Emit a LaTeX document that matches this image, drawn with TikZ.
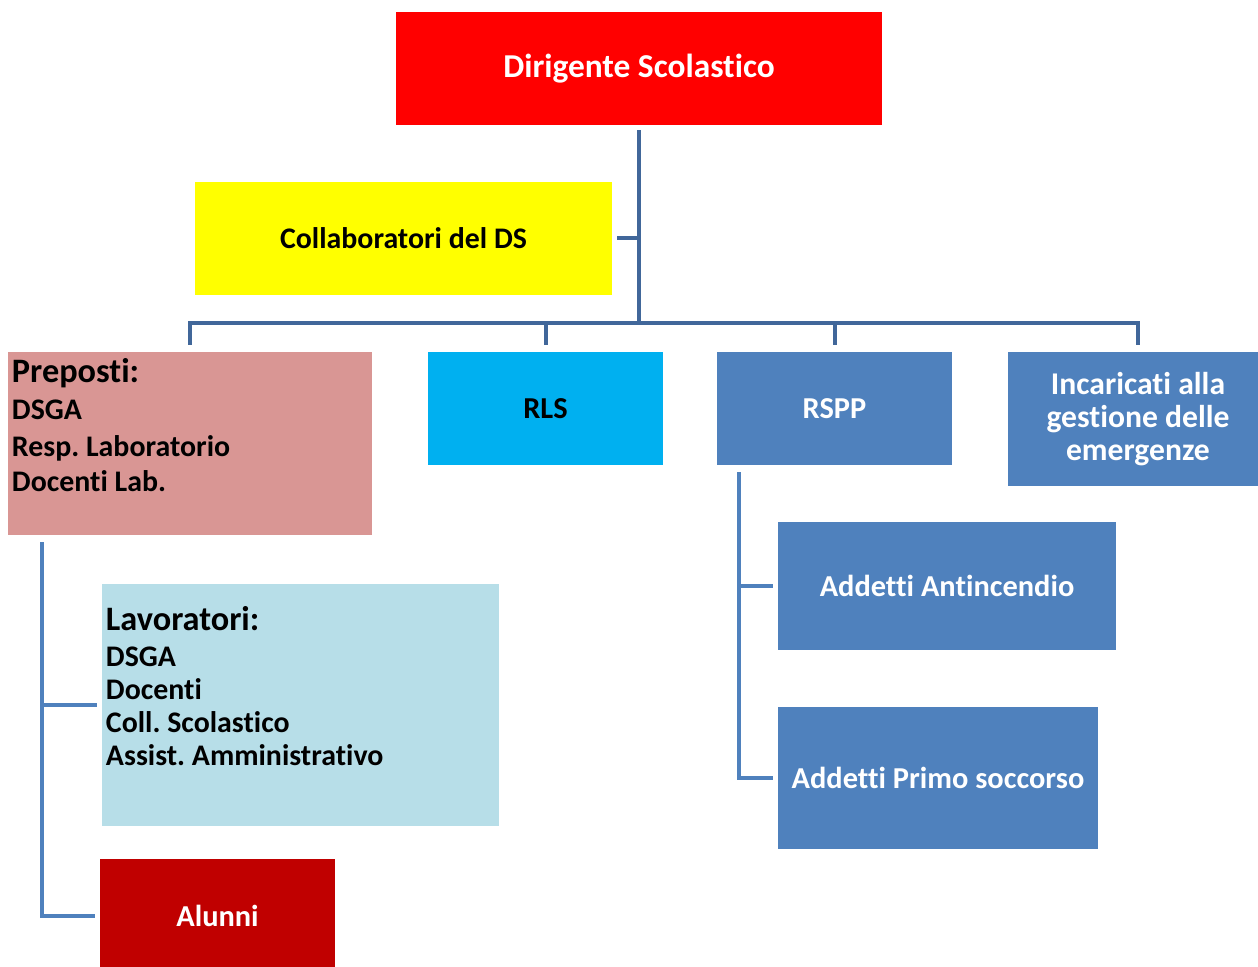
\documentclass[tikz,border=0pt]{standalone}
\usepackage{fontspec}
\setmainfont{Carlito}[RawFeature=-liga]
\usepackage{tikz}
\usetikzlibrary{positioning,calc}
\definecolor{dsred}{HTML}{FF0000}
\definecolor{dsyellow}{HTML}{FFFF00}
\definecolor{dsrose}{HTML}{D99694}
\definecolor{dscyan}{HTML}{00B0F0}
\definecolor{dsblue}{HTML}{4F81BD}
\definecolor{dslight}{HTML}{B7DEE8}
\definecolor{dsdark}{HTML}{C00000}
\definecolor{dsline}{HTML}{41679A}
\frenchspacing

\begin{document}
\begin{tikzpicture}[
  x=0.2mm, y=-0.2mm,
  font=\bfseries\fontsize{17.3}{19}\selectfont,
  box/.style={inner sep=2pt, align=center, minimum height=22.6mm},
  list/.style={inner sep=0pt, align=left, anchor=north west,
               font=\bfseries\fontsize{17}{18.7}\selectfont},
  conn/.style={draw=dsline, line width=0.8mm},
  subconn/.style={draw=dsblue, line width=0.8mm}
]
\clip (0,0) rectangle (1258,967);

% --- top levels ---
\node[box, fill=dsred, text=white, minimum width=97.2mm,
      font=\bfseries\fontsize{19}{20}\selectfont] (dir) at (639,68.5)
  {Dirigente Scolastico};
\node[box, fill=dsyellow, minimum width=83.4mm,
      font=\bfseries\fontsize{17}{19}\selectfont] (coll) at (403.5,238.5)
  {Collaboratori del DS};

% --- row of roles ---
\node[box, fill=dsrose, minimum width=72.8mm, minimum height=36.6mm] (prep) at (190,443.5) {};
\node[list] (preptxt) at ([xshift=0.8mm,yshift=-1.2mm]prep.north west)
  {{\fontsize{19.5}{21}\selectfont Preposti:}\\[2.7pt]
   DSGA\\[2.4pt] Resp. Laboratorio\\[0.9pt] Docenti Lab.};
\node[box, fill=dscyan, minimum width=47mm] (rls) at (545.5,408.5) {RLS};
\node[box, fill=dsblue, text=white, minimum width=47mm] (rspp) at (834.5,408.5) {RSPP};
\node[box, fill=dsblue, text=white, minimum width=52mm, minimum height=26.8mm,
      font=\bfseries\fontsize{18}{19}\selectfont] (inc) at (1138,419)
  {Incaricati alla\\ gestione delle\\ emergenze};

% --- lower levels ---
\node[box, fill=dslight, minimum width=79.4mm, minimum height=48.4mm] (lav) at (300.5,705) {};
\node[list] (lavtxt) at ([xshift=0.8mm,yshift=-4.4mm]lav.north west)
  {{\fontsize{19.5}{21}\selectfont Lavoratori:}\\[2.3pt]
   DSGA\\ Docenti\\ Coll. Scolastico\\ Assist. Amministrativo};
\node[box, fill=dsdark, text=white, minimum width=47mm, minimum height=22.8mm] (alunni) at (217.5,916)
  {Alunni};
\node[box, fill=dsblue, text=white, minimum width=67.6mm, minimum height=25.6mm] (anti) at (947,586)
  {Addetti Antincendio};
\node[box, fill=dsblue, text=white, minimum width=64mm, minimum height=28.4mm] (primo) at (938,778)
  {Addetti Primo soccorso};

% --- connectors ---
\coordinate (bus) at (639,323);
\draw[conn, shorten <=1mm] (dir.south) -- (bus);
\draw[conn, shorten <=1mm] (coll.east) -- (coll.east -| bus);
\draw[conn, shorten <=1.4mm, shorten >=1.4mm]
  (prep.north) -- (prep.north |- bus) -- (inc.north |- bus) -- (inc.north);
\foreach \n in {rls,rspp}
  \draw[conn, shorten >=1.4mm] (\n.north |- bus) -- (\n.north);

\coordinate (ptrunk) at ([xshift=6.8mm]prep.south west);
\draw[subconn, shorten <=1.4mm, shorten >=1mm] (ptrunk) |- (alunni.west);
\draw[subconn, shorten >=1mm] (ptrunk |- lav.west) -- (lav.west);

\coordinate (strunk) at ([xshift=4.4mm]rspp.south west);
\draw[subconn, shorten <=1.4mm, shorten >=1mm] (strunk) |- (primo.west);
\draw[subconn, shorten >=1mm] (strunk |- anti.west) -- (anti.west);
\end{tikzpicture}
\end{document}
